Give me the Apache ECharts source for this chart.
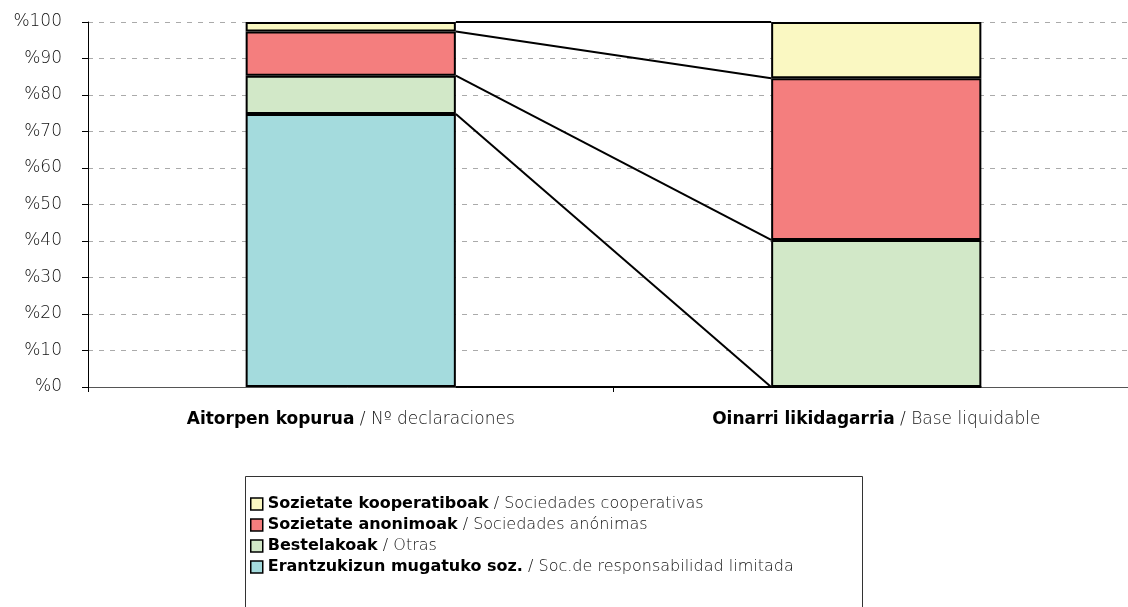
<!DOCTYPE html>
<html>
<head>
<meta charset="utf-8">
<script src="https://cdn.jsdelivr.net/npm/echarts@6/dist/echarts.min.js"></script>
<style>html,body{margin:0;padding:0;background:#fff}#c{width:1128px;height:607px}</style>
</head>
<body>
<div id="c"></div>
<script>
// Categories (Basque / Spanish)
const catBasque = ['Aitorpen kopurua', 'Oinarri likidagarria'];
const catSpanish = ['Nº declaraciones', 'Base liquidable'];
// Series names (Basque / Spanish)
const seriesBasque = ['Erantzukizun mugatuko soz.', 'Bestelakoak', 'Sozietate anonimoak', 'Sozietate kooperatiboak'];
const seriesSpanish = ['Soc.de responsabilidad limitada', 'Otras', 'Sociedades anónimas', 'Sociedades cooperativas'];
// Values (%)
const erantzukizun = [74.8, 0];
const bestelakoak = [10.5, 40.3];
const anonimoak = [12.1, 44.3];
const kooperatiboak = [2.6, 15.4];
// Y tick labels
const yTicks = [0, 10, 20, 30, 40, 50, 60, 70, 80, 90, 100];

const colors = ['#A4DBDD', '#D2E8C8', '#F47E7E', '#FAF8C2'];
const seriesValues = [erantzukizun, bestelakoak, anonimoak, kooperatiboak];

// cumulative levels for connector lines
const levels = [[0, 0, 0]];
let c0 = 0, c1 = 0;
seriesValues.forEach(v => { c0 += v[0]; c1 += v[1]; levels.push([0, c0, c1]); });

const FONT = 'DejaVu Sans';
const chart = echarts.init(document.getElementById('c'));

const barSeries = seriesValues.map((vals, i) => ({
  name: seriesBasque[i],
  type: 'bar',
  stack: 'total',
  barWidth: '40%',
  data: vals,
  itemStyle: { color: colors[i], borderColor: '#000', borderWidth: 2 },
  emphasis: { disabled: true }
}));

const lineSeries = {
  type: 'custom',
  name: 'connectors',
  data: levels,
  encode: { x: 0, y: [1, 2] },
  z: 3,
  silent: true,
  renderItem: function (params, api) {
    const v0 = api.value(1), v1 = api.value(2);
    const p1 = api.coord([0, v0]);
    const p2 = api.coord([1, v1]);
    const half = api.size([1, 0])[0] * 0.2;
    return {
      type: 'line',
      shape: { x1: p1[0] + half, y1: p1[1], x2: p2[0] - half, y2: p2[1] },
      style: { stroke: '#000', lineWidth: 2 }
    };
  }
};

chart.setOption({
  animation: false,
  textStyle: { fontFamily: FONT },
  grid: { left: 88, width: 1051, top: 22, bottom: 220, containLabel: false, outerBoundsMode: 'none' },
  graphic: [{
    type: 'rect',
    left: 245, top: 476,
    shape: { width: 617, height: 140 },
    style: { fill: '#fff', stroke: '#333', lineWidth: 1 },
    z: -1, silent: true
  }],
  legend: {
    orient: 'vertical',
    left: 250, top: 496,
    padding: 0,
    itemWidth: 12, itemHeight: 12, itemGap: 5,
    icon: 'rect',
    data: [seriesBasque[3], seriesBasque[2], seriesBasque[1], seriesBasque[0]],
    itemStyle: { borderColor: '#000', borderWidth: 1.5 },
    selectedMode: false,
    formatter: function (name) {
      const i = seriesBasque.indexOf(name);
      return '{b|' + name + '} / ' + seriesSpanish[i];
    },
    textStyle: {
      fontFamily: FONT, fontSize: 16, fontWeight: 300, color: '#111', lineHeight: 14,
      rich: { b: { fontFamily: FONT, fontSize: 16, fontWeight: 'bold', color: '#000', lineHeight: 14 } }
    }
  },
  xAxis: {
    type: 'category',
    data: catBasque,
    axisLine: { lineStyle: { color: '#555', width: 1 } },
    axisTick: { show: true, length: 5, lineStyle: { color: '#000' } },
    axisLabel: {
      margin: 24,
      formatter: function (v, idx) {
        return '{b|' + v + '} / ' + catSpanish[idx];
      },
      fontFamily: FONT, fontSize: 17, fontWeight: 300, color: '#111',
      rich: { b: { fontFamily: FONT, fontSize: 17, fontWeight: 'bold', color: '#000' } }
    }
  },
  yAxis: {
    type: 'value',
    min: 0, max: 100, interval: 10,
    axisLine: { show: true, lineStyle: { color: '#000', width: 1 } },
    axisTick: { show: true, length: 6, lineStyle: { color: '#000' } },
    axisLabel: {
      margin: 26,
      fontFamily: FONT, fontSize: 17, fontWeight: 300, color: '#111',
      formatter: function (v) { return yTicks.indexOf(v) >= 0 ? '%' + v : ''; }
    },
    splitLine: { show: true, lineStyle: { color: '#aaa', type: [5, 6], width: 1 } }
  },
  series: barSeries.concat([lineSeries])
});
</script>
</body>
</html>
